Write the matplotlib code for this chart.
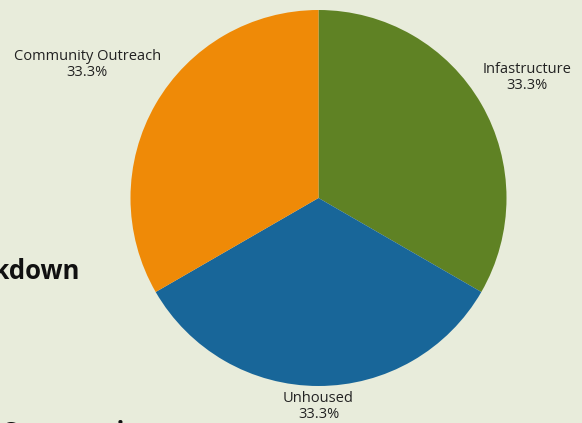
import matplotlib.pyplot as plt
import numpy as np

# Budget share per area
categories = ['Infastructure', 'Unhoused', 'Community Outreach']
shares = [1, 1, 1]
colors = ['#5f8224', '#186699', '#ef8a07']
label_dist = [1.28, 1.11, 1.42]

bg = '#e8ecdb'
plt.rcParams['font.family'] = ['Open Sans', 'DejaVu Sans']

fig = plt.figure(figsize=(5.82, 4.23), dpi=100)
fig.patch.set_facecolor(bg)

# axes in pixel units so the pie sits where it should on the page
ax = fig.add_axes([0, 0, 1, 1])

cx, cy, r = 318.5, 225, 188
wedges, _ = ax.pie(shares, colors=colors, startangle=90, counterclock=False,
                   center=(cx, cy), radius=r, frame=True,
                   wedgeprops=dict(linewidth=0))
ax.set_xlim(0, 582)
ax.set_ylim(0, 423)
ax.set_aspect('equal')
ax.axis('off')

total = sum(shares)
for w, name, val, d in zip(wedges, categories, shares, label_dist):
    mid = np.deg2rad((w.theta1 + w.theta2) / 2)
    x = cx + np.cos(mid) * r * d
    y = cy + np.sin(mid) * r * d
    ax.text(x, y, f'{name}\n{val / total * 100:.1f}%', ha='center', va='center',
            fontsize=10.5, color='#222222', linespacing=1.05)

# page heading text partly outside the figure
head = dict(fontsize=18.5, fontweight='bold', color='#111111')
fig.text(80 / 582, 1 - 279 / 423, 'Breakdown', ha='right', va='baseline', **head)
fig.text(0, 1 - 441 / 423, 'Community', ha='left', va='baseline', **head)

fig.savefig('out.png', dpi=100, facecolor=bg)
